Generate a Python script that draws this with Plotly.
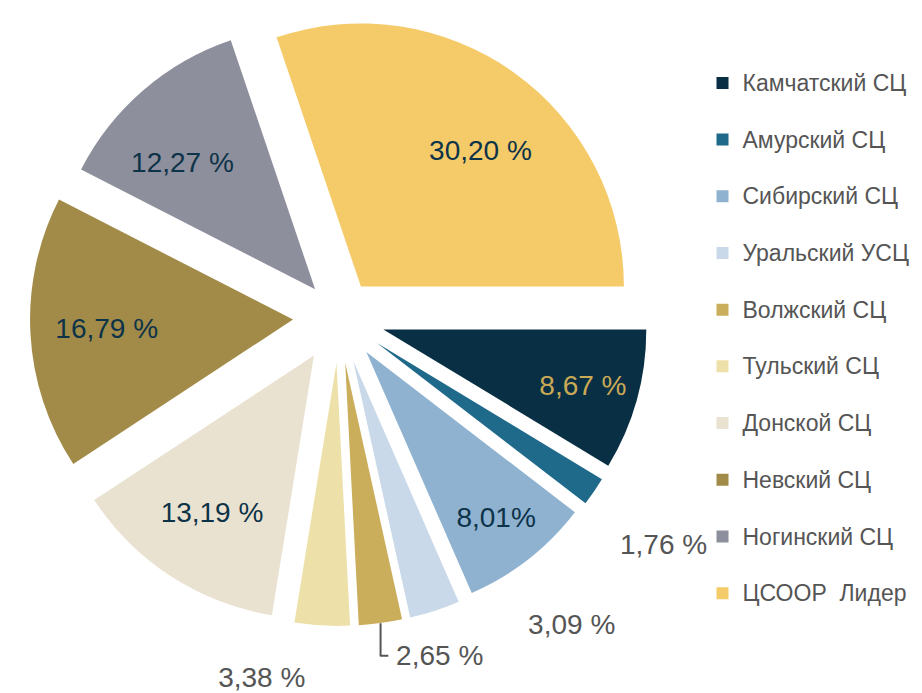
import plotly.graph_objects as go

# ---- data ----
categories = ["Камчатский СЦ", "Амурский СЦ", "Сибирский СЦ", "Уральский УСЦ", "Волжский СЦ",
              "Тульский СЦ", "Донской СЦ", "Невский СЦ", "Ногинский СЦ", "ЦСООР\u00a0 Лидер"]
shares = [8.67, 1.76, 8.01, 3.09, 2.65, 3.38, 13.19, 16.79, 12.27, 30.20]
share_labels = ["8,67 %", "1,76 %", "8,01%", "3,09 %", "2,65 %", "3,38 %", "13,19 %", "16,79 %", "12,27 %", "30,20 %"]

# ---- styling ----
colors = ["#082f44", "#1f6a8a", "#8fb2d0", "#c9d9ea", "#cbae5b",
          "#ede1a9", "#eae2d1", "#a28b48", "#8e8f9c", "#f5cb6a"]
inside_text_colors = ["#c9a955"] + ["#0d3349"] * 9
text_positions = ["inside", "outside", "inside", "outside", "outside",
                  "outside", "inside", "inside", "inside", "inside"]
pulls = [0.175, 0.175, 0.169, 0.175, 0.175, 0.175, 0.175, 0.175, 0.139, 0.143]

FONT = "Liberation Sans, Arial, Helvetica, sans-serif"
W, H = 914, 685          # page body adds an 8px margin -> fills the 922x693 window
NBSP = "\u00a0"

# slice texts (padding nudges labels toward where the reference has them)
slice_texts = list(share_labels)
slice_texts[9] = NBSP * 9 + share_labels[9] + "<br>" + NBSP
slice_texts[8] = NBSP + "<br>" + share_labels[8] + NBSP * 2
slice_texts[7] = share_labels[7] + NBSP * 3
slice_texts[1] = NBSP + "<br>" + NBSP + "<br>" + share_labels[1]
slice_texts[3] = NBSP * 11 + share_labels[3]
slice_texts[4] = NBSP + share_labels[4]
slice_texts[5] = NBSP + "<br>" + share_labels[5]

# legend entries: visible text plus an empty line -> taller rows like the reference
legend_labels = [f"<span style='font-size:23px'>{c}</span><br>{NBSP}" for c in categories]

fig = go.Figure(
    go.Pie(
        labels=legend_labels,
        values=shares,
        text=slice_texts,
        textinfo="text",
        textposition=text_positions,
        insidetextorientation="horizontal",
        sort=False,
        direction="clockwise",
        rotation=90,
        pull=pulls,
        marker=dict(colors=colors, line=dict(width=0)),
        textfont=dict(size=28, family=FONT),
        insidetextfont=dict(size=28, color=inside_text_colors, family=FONT),
        outsidetextfont=dict(size=28, color="#555555", family=FONT),
        domain=dict(x=[22 / W, 640 / W], y=[1 - 618 / H, 1]),
        hoverinfo="skip",
    )
)

fig.update_layout(
    width=W,
    height=H,
    margin=dict(l=0, r=0, t=0, b=0, autoexpand=False),
    paper_bgcolor="white",
    plot_bgcolor="white",
    font=dict(family=FONT, color="#555555"),
    showlegend=True,
    legend=dict(
        x=694.5 / W,
        xanchor="left",
        y=1 - 55 / H,
        yanchor="top",
        valign="top",
        font=dict(size=20.65, color="#555555", family=FONT),
        bgcolor="rgba(0,0,0,0)",
        borderwidth=0,
    ),
)

fig.write_html("out.html")
